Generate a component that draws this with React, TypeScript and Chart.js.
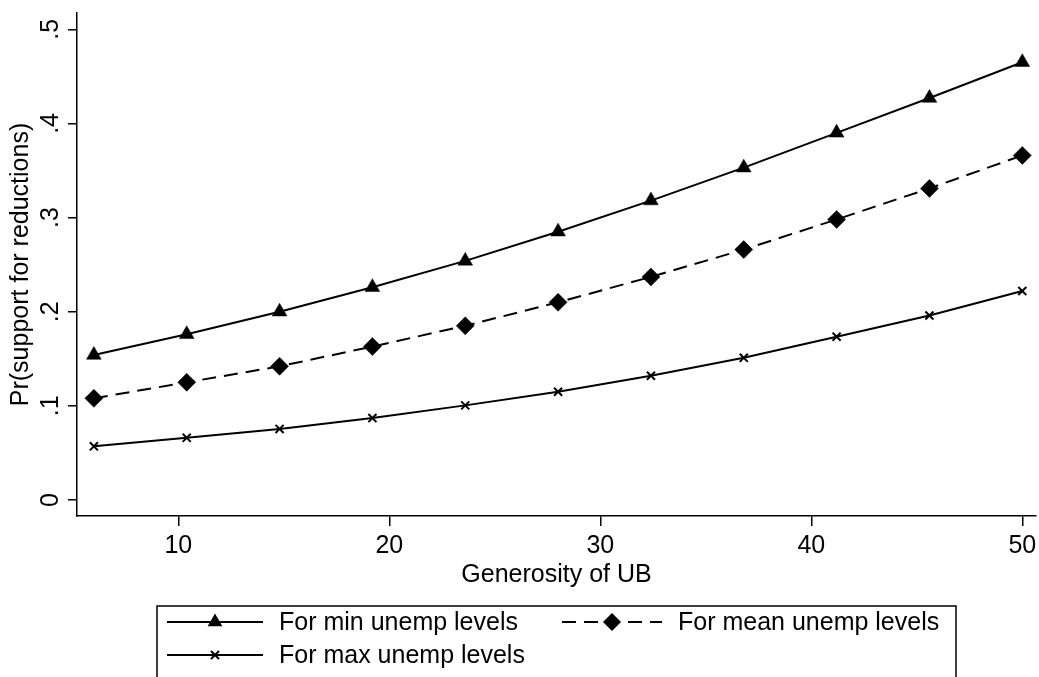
import React, { useEffect, useRef } from "react";
import { Chart, registerables } from "chart.js";

Chart.register(...registerables);

// ---- Data ----
const xValues = [6, 10.4, 14.8, 19.2, 23.6, 28, 32.4, 36.8, 41.2, 45.6, 50];
const minUnemp = [0.154, 0.176, 0.2, 0.226, 0.254, 0.285, 0.318, 0.353, 0.39, 0.427, 0.465];
const meanUnemp = [0.108, 0.125, 0.142, 0.163, 0.185, 0.21, 0.237, 0.266, 0.298, 0.331, 0.366];
const maxUnemp = [0.057, 0.066, 0.0755, 0.087, 0.1005, 0.115, 0.132, 0.151, 0.1735, 0.196, 0.222];
const seriesLabels = ["For min unemp levels", "For mean unemp levels", "For max unemp levels"];
const xTicks = [10, 20, 30, 40, 50];
const yTicks = [0, 0.1, 0.2, 0.3, 0.4, 0.5];
const yTickLabels = ["0", ".1", ".2", ".3", ".4", ".5"];
const xTitle = "Generosity of UB";
const yTitle = "Pr(support for reductions)";

const FONT = '"Liberation Sans", Arial, Helvetica, sans-serif';

function drawMarker(ctx: CanvasRenderingContext2D, kind: string, x: number, y: number) {
  ctx.save();
  ctx.fillStyle = "#000";
  ctx.strokeStyle = "#000";
  ctx.setLineDash([]);
  if (kind === "triangle") {
    const r = 8.5;
    ctx.beginPath();
    ctx.moveTo(x, y - r);
    ctx.lineTo(x + r * Math.sin((2 * Math.PI) / 3), y - r * Math.cos((2 * Math.PI) / 3));
    ctx.lineTo(x + r * Math.sin((4 * Math.PI) / 3), y - r * Math.cos((4 * Math.PI) / 3));
    ctx.closePath();
    ctx.fill();
  } else if (kind === "diamond") {
    const r = 9;
    ctx.beginPath();
    ctx.moveTo(x - r, y);
    ctx.lineTo(x, y - r);
    ctx.lineTo(x + r, y);
    ctx.lineTo(x, y + r);
    ctx.closePath();
    ctx.fill();
  } else {
    const d = 4;
    ctx.lineWidth = 2;
    ctx.beginPath();
    ctx.moveTo(x - d, y - d);
    ctx.lineTo(x + d, y + d);
    ctx.moveTo(x + d, y - d);
    ctx.lineTo(x - d, y + d);
    ctx.stroke();
  }
  ctx.restore();
}

const customText = {
  id: "customText",
  afterDraw(chart: any) {
    const ctx: CanvasRenderingContext2D = chart.ctx;
    const { left, right, top, bottom } = chart.chartArea;
    const ys = chart.scales.y;
    ctx.save();
    ctx.fillStyle = "#000";
    ctx.font = `25px ${FONT}`;

    // y tick labels (rotated, as in the reference)
    yTicks.forEach((v, i) => {
      const py = ys.getPixelForValue(v);
      ctx.save();
      ctx.translate(left - 19, py);
      ctx.rotate(-Math.PI / 2);
      ctx.textAlign = "center";
      ctx.textBaseline = "alphabetic";
      ctx.fillText(yTickLabels[i], 0, 0);
      ctx.restore();
    });

    // y title
    ctx.save();
    ctx.translate(28, (top + bottom) / 2);
    ctx.rotate(-Math.PI / 2);
    ctx.textAlign = "center";
    ctx.textBaseline = "alphabetic";
    ctx.fillText(yTitle, 0, 0);
    ctx.restore();

    // x title
    ctx.textAlign = "center";
    ctx.textBaseline = "alphabetic";
    ctx.fillText(xTitle, (left + right) / 2, 582);

    // legend
    const boxL = 157, boxT = 606, boxR = 956;
    ctx.lineWidth = 1.5;
    ctx.strokeStyle = "#000";
    ctx.strokeRect(boxL, boxT, boxR - boxL, 100);

    const items = [
      { x0: 167, x1: 263, tx: 279, y: 622, marker: "triangle", dash: [] as number[] },
      { x0: 562, x1: 662, tx: 678, y: 622, marker: "diamond", dash: [14, 8] },
      { x0: 167, x1: 263, tx: 279, y: 655, marker: "cross", dash: [] as number[] },
    ];
    items.forEach((it, i) => {
      ctx.save();
      ctx.lineWidth = 2;
      ctx.setLineDash(it.dash);
      ctx.beginPath();
      ctx.moveTo(it.x0, it.y);
      ctx.lineTo(it.x1, it.y);
      ctx.stroke();
      ctx.restore();
      drawMarker(ctx, it.marker, (it.x0 + it.x1) / 2, it.y);
      ctx.textAlign = "left";
      ctx.textBaseline = "middle";
      ctx.fillText(chart.data.datasets[i].label, it.tx, it.y + 1);
    });
    ctx.restore();
  },
};

export default function App() {
  const ref = useRef<HTMLCanvasElement | null>(null);
  useEffect(() => {
    if (!ref.current) return;
    Chart.defaults.font.family = FONT;
    const mk = (arr: number[]) => xValues.map((x, i) => ({ x, y: arr[i] }));
    const chart = new Chart(ref.current, {
      type: "line",
      data: {
        datasets: [
          {
            label: seriesLabels[0],
            data: mk(minUnemp),
            borderColor: "#000",
            backgroundColor: "#000",
            borderWidth: 2,
            pointStyle: "triangle",
            pointRadius: 8.5,
            pointBorderWidth: 0.5,
            tension: 0,
          },
          {
            label: seriesLabels[1],
            data: mk(meanUnemp),
            borderColor: "#000",
            backgroundColor: "#000",
            borderWidth: 2,
            borderDash: [14, 8],
            pointStyle: "rectRot",
            pointRadius: 9,
            pointBorderWidth: 0.5,
            tension: 0,
          },
          {
            label: seriesLabels[2],
            data: mk(maxUnemp),
            borderColor: "#000",
            backgroundColor: "#000",
            borderWidth: 2,
            pointStyle: "crossRot",
            pointRadius: 5.7,
            pointBorderWidth: 2,
            tension: 0,
          },
        ],
      },
      options: {
        responsive: false,
        animation: false,
        events: [],
        layout: { autoPadding: false, padding: { left: 0, top: 13, right: 3, bottom: 0 } },
        plugins: {
          legend: { display: false },
          tooltip: { enabled: false },
          title: { display: false },
        },
        scales: {
          x: {
            type: "linear",
            min: 5.2,
            max: 50.65,
            afterBuildTicks: (s: any) => {
              s.ticks = xTicks.map((v) => ({ value: v }));
            },
            afterFit: (s: any) => {
              s.height = 161;
              s.paddingLeft = 0;
              s.paddingRight = 0;
            },
            ticks: {
              color: "#000",
              font: { size: 25, family: FONT },
              padding: 5,
              maxRotation: 0,
              autoSkip: false,
              callback: (v: any) => String(v),
            },
            grid: {
              display: true,
              drawOnChartArea: false,
              drawTicks: true,
              tickLength: 10,
              color: "#000",
              lineWidth: 1.5,
            },
            border: { display: true, color: "#000", width: 1.5 },
          },
          y: {
            type: "linear",
            min: -0.017,
            max: 0.5173,
            afterBuildTicks: (s: any) => {
              s.ticks = yTicks.map((v) => ({ value: v }));
            },
            afterFit: (s: any) => {
              s.width = 77;
              s.paddingTop = 0;
              s.paddingBottom = 0;
            },
            ticks: { display: false },
            grid: {
              display: true,
              drawOnChartArea: false,
              drawTicks: true,
              tickLength: 9,
              color: "#000",
              lineWidth: 1.5,
            },
            border: { display: true, color: "#000", width: 1.5 },
          },
        },
      },
      plugins: [customText],
    });
    return () => chart.destroy();
  }, []);
  return (
    <div style={{ position: "fixed", left: 0, top: 0, width: 1039, height: 677, background: "#fff", overflow: "hidden" }}>
      <canvas ref={ref} width={1039} height={677} style={{ display: "block" }} />
    </div>
  );
}
